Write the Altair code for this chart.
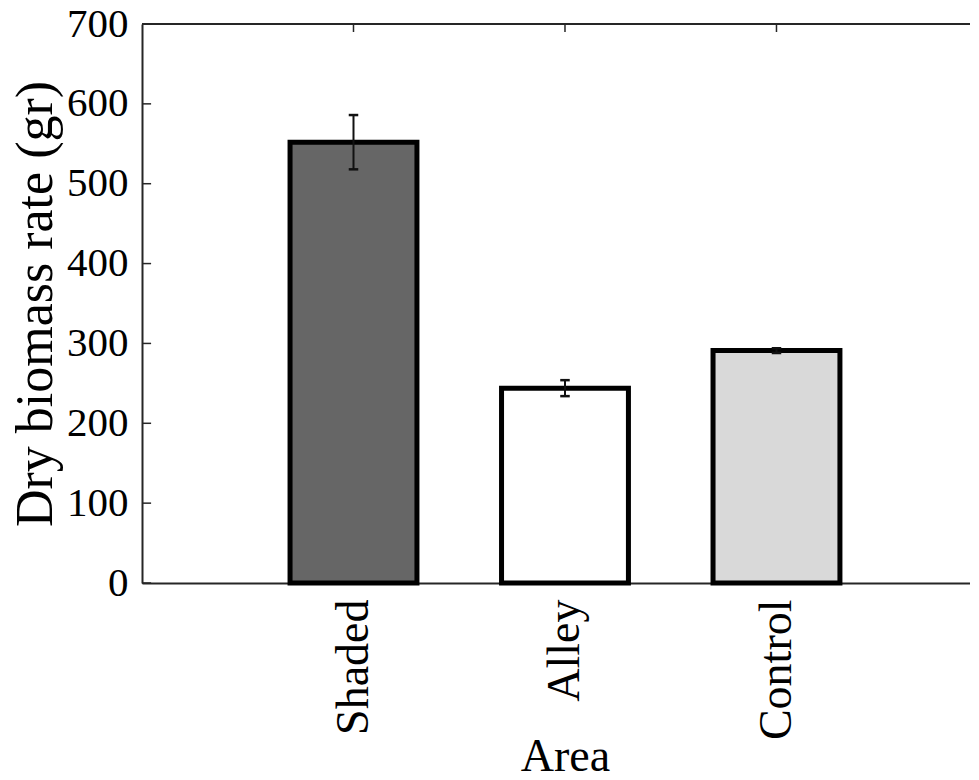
import altair as alt
import pandas as pd

categories = ["Shaded", "Alley", "Control"]
positions = [1, 2, 3]
means = [552, 244, 291]
errors = [34, 10, 3]
fills = ["#666666", "#ffffff", "#d9d9d9"]
y_ticks = [0, 100, 200, 300, 400, 500, 600, 700]

BAR_W = 0.6
CAP_W = 0.045
X_MAX = 3.915
FONT = "Liberation Serif"

df = pd.DataFrame({
    "cat": categories,
    "pos": positions,
    "mean": means,
    "err": errors,
    "fill": fills,
})
df["x0"] = df["pos"] - BAR_W / 2
df["x1"] = df["pos"] + BAR_W / 2
df["lo"] = df["mean"] - df["err"]
df["hi"] = df["mean"] + df["err"]
df["c0"] = df["pos"] - CAP_W / 2
df["c1"] = df["pos"] + CAP_W / 2

ticks_df = pd.DataFrame({"t": y_ticks})

label_expr = " : ".join(
    [f"datum.value == {p} ? '{c}'" for p, c in zip(positions, categories)]
) + " : ''"

xscale = alt.Scale(domain=[0, X_MAX], nice=False, zero=False)
yscale = alt.Scale(domain=[0, 700], nice=False)

x_axis = alt.Axis(
    title="Area", values=positions, labelExpr=label_expr, labelAngle=-90,
    labelAlign="right", labelBaseline="middle", labelPadding=16,
    labelFont=FONT, labelFontSize=46, labelColor="#000000",
    titleFont=FONT, titleFontSize=46, titleFontWeight="normal", titleColor="#000000",
    titleBaseline="alphabetic", titleY=187, titleX=423, titleAlign="center",
    ticks=False, grid=False,
    domainColor="#262626", domainWidth=2,
)
y_axis = alt.Axis(
    title="Dry biomass rate (gr)", values=y_ticks, labelPadding=14,
    labelFont=FONT, labelFontSize=41, labelColor="#000000",
    titleFont=FONT, titleFontSize=52, titleFontWeight="normal", titleColor="#000000",
    titleBaseline="alphabetic", titleX=-91, ticks=False, grid=False,
    domainColor="#262626", domainWidth=2,
)

base = alt.Chart(df)

bars = base.mark_rect(stroke="#000000", strokeWidth=5).encode(
    x=alt.X("x0:Q", scale=xscale, axis=x_axis),
    x2="x1:Q",
    y=alt.Y("mean:Q", scale=yscale, axis=y_axis),
    y2=alt.datum(0),
    fill=alt.Fill("fill:N", scale=None),
)

err_line = base.mark_rule(color="#111111", strokeWidth=2).encode(
    x="pos:Q", y="lo:Q", y2="hi:Q"
)
cap_hi = base.mark_rule(color="#111111", strokeWidth=2.5).encode(
    x="c0:Q", x2="c1:Q", y="hi:Q"
)
cap_lo = base.mark_rule(color="#111111", strokeWidth=2.5).encode(
    x="c0:Q", x2="c1:Q", y="lo:Q"
)

top_line = base.mark_rule(color="#262626", strokeWidth=2).encode(
    x=alt.datum(0), x2=alt.datum(X_MAX), y=alt.datum(700)
)
top_ticks = base.mark_rule(color="#262626", strokeWidth=1.5).encode(
    x="pos:Q", y=alt.datum(700), y2=alt.datum(690)
)
left_ticks = alt.Chart(ticks_df).mark_rule(color="#262626", strokeWidth=1.5).encode(
    y="t:Q", x=alt.datum(0), x2=alt.datum(0.043)
)

chart = alt.layer(
    bars, err_line, cap_hi, cap_lo, top_line, top_ticks, left_ticks
).properties(
    width=828, height=559,
    autosize=alt.AutoSizeParams(type="none"),
    padding={"left": 134, "top": 16, "right": 0, "bottom": 188},
).configure_view(stroke=None).configure(background="#ffffff")

chart.save("out.html", embed_options={"renderer": "svg", "actions": False})
